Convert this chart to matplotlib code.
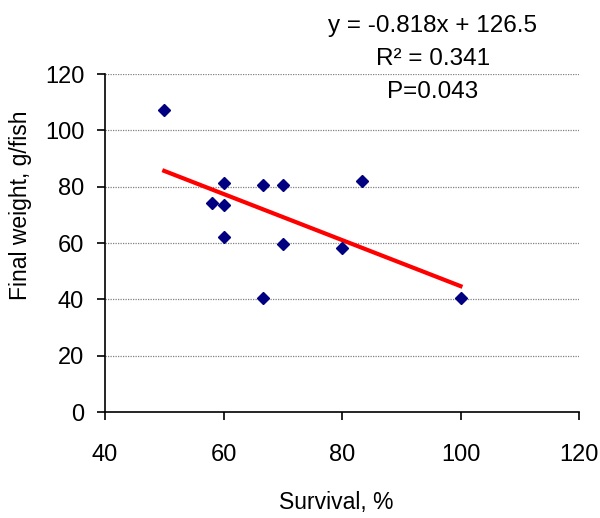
import numpy as np
import matplotlib.pyplot as plt

plt.rcParams['font.family'] = ['Liberation Sans', 'DejaVu Sans']

survival = [50, 58, 60, 60, 60, 66.7, 66.7, 70, 70, 80, 83.3, 100]
weight = [107.2, 74.3, 81.3, 73.5, 62.3, 80.5, 40.6, 80.5, 59.7, 58.1, 82.1, 40.6]
slope = -0.818
intercept = 126.5
x_ticks = [40, 60, 80, 100, 120]
y_ticks = [0, 20, 40, 60, 80, 100, 120]
stats_lines = ['y = -0.818x + 126.5', 'R² = 0.341', 'P=0.043']

W, H = 600, 518
fig = plt.figure(figsize=(6, 5.18), dpi=100)
ax = fig.add_axes([0.175, 0.2046, 0.79, 0.6525])

ax.set_xlim(40, 120)
ax.set_ylim(0, 120)
ax.set_xticks(x_ticks)
ax.set_yticks(y_ticks)

for yv in y_ticks[1:]:
    ax.axhline(yv, color='#808080', lw=0.9, ls=(0, (1, 1)), zorder=0)

xf = np.array([min(survival), max(survival)])
ax.plot(xf, slope * xf + intercept, color='#ff0000', lw=3, zorder=2)
ax.plot(survival, weight, 'D', color='#000080', markersize=6.3, zorder=3)

ax.spines['top'].set_visible(False)
ax.spines['right'].set_visible(False)
ax.spines['left'].set_linewidth(1.2)
ax.spines['bottom'].set_linewidth(1.2)
ax.tick_params(axis='y', direction='out', length=6, width=1.2, labelsize=17, pad=9)
ax.tick_params(axis='x', direction='out', length=6, width=1.2, labelsize=17, pad=17)

# axis titles placed like the Excel original (y title sits above centre)
fig.text(336 / W, 1 - 503 / H, 'Survival, %', fontsize=16.5, ha='center', va='center')
fig.text(21 / W, 1 - 205 / H, 'Final weight, g/fish', fontsize=16.5,
         rotation=90, ha='center', va='center')

for s, base in zip(stats_lines, [32, 65, 98]):
    fig.text(433 / W, 1 - base / H, s, ha='center', va='baseline', fontsize=17.5)

fig.savefig('out.png')
